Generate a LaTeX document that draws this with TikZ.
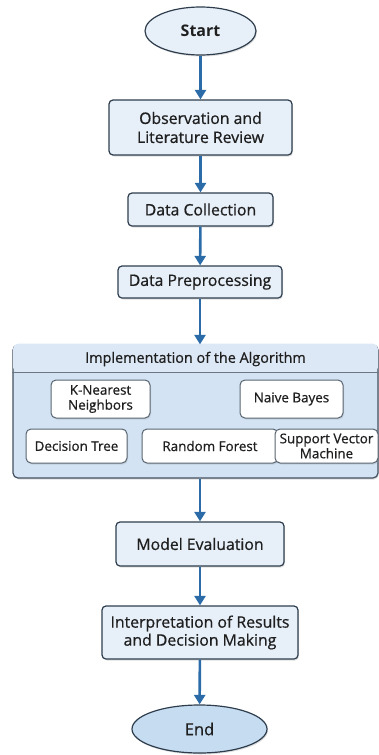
\documentclass[tikz,border=0pt]{standalone}
\usepackage{fontspec}
\setmainfont{Open Sans}
\newfontface\medfont{Open Sans}[FakeBold=0.7]
\usetikzlibrary{shapes.geometric,arrows.meta,shadows}
\definecolor{flowblue}{HTML}{2B6CA8}
\definecolor{boxfill}{HTML}{E7EFF8}
\definecolor{boxline}{HTML}{2E3D4D}
\definecolor{panelfill}{HTML}{D3E3F3}
\definecolor{panelhead}{HTML}{DCE8F5}
\definecolor{endfill}{HTML}{C6DCF0}
\begin{document}
\begin{tikzpicture}[x=1pt, y=-1pt,
    every node/.style={font=\medfont\fontsize{15.8}{19}\selectfont, text=black!88},
    stepbox/.style={draw=boxline, line width=1.2pt, fill=boxfill, rounded corners=4pt,
        align=center, inner sep=0pt, drop shadow={opacity=0.25, shadow xshift=1pt, shadow yshift=-1.5pt}},
    algobox/.style={draw=boxline!80, line width=1pt, fill=white, rounded corners=5pt,
        align=center, inner sep=0pt, font=\medfont\fontsize{13.4}{15}\selectfont,
        drop shadow={opacity=0.2, shadow xshift=1pt, shadow yshift=-1.5pt}},
    terminal/.style={ellipse, draw=boxline, line width=1.2pt, inner sep=0pt,
        drop shadow={opacity=0.25, shadow xshift=1pt, shadow yshift=-1.5pt}},
    flow/.style={flowblue, line width=2.6pt, -{Triangle[width=11pt,length=9.5pt]}}]
    \useasboundingbox (0,0) rectangle (379,755);

    % Main steps
    \node[terminal, fill=boxfill, minimum width=111, minimum height=48, font=\fontsize{16}{19}\selectfont\bfseries] (start) at (200.5,31) {Start};
    \node[stepbox, minimum width=183, minimum height=55] (observe) at (200.5,127.5) {Observation and\\Literature Review};
    \node[stepbox, minimum width=145, minimum height=33] (collect) at (200.5,209.5) {Data Collection};
    \node[stepbox, minimum width=164, minimum height=32] (prep) at (200,282) {Data Preprocessing};

    % Algorithm panel
    \node[draw=boxline!90, line width=1.2pt, fill=panelfill, rounded corners=5pt,
        minimum width=365, minimum height=133, inner sep=0pt,
        drop shadow={opacity=0.25, shadow xshift=1pt, shadow yshift=-1.5pt}] (impl) at (195.5,411.5) {};
    \fill[panelhead, rounded corners=5pt] ([shift={(0.7,-0.7)}]impl.north west) rectangle ([shift={(-0.7,28)}]impl.north east);
    \draw[boxline!70, line width=0.8pt] ([yshift=-28pt]impl.north west) -- ([yshift=-28pt]impl.north east);
    \node[font=\medfont\fontsize{14.4}{17}\selectfont] (impltitle) at (195.5,359) {Implementation of the Algorithm};

    % Algorithms
    \node[algobox, minimum width=99, minimum height=38] (knn) at (100.5,399) {K-Nearest\\Neighbors};
    \node[algobox, minimum width=103, minimum height=38] (nb) at (291.5,399) {Naive Bayes};
    \node[algobox, minimum width=101, minimum height=34] (dt) at (76.5,446) {Decision Tree};
    \node[algobox, minimum width=136, minimum height=34] (rf) at (210,446) {Random Forest};
    \node[algobox, minimum width=103, minimum height=34] (svm) at (326.5,446) {Support Vector\\Machine};

    % Closing steps
    \node[stepbox, minimum width=168, minimum height=44] (eval) at (200,544) {Model Evaluation};
    \node[stepbox, minimum width=196, minimum height=53, font=\medfont\fontsize{15.8}{18}\selectfont] (interp) at (200,632.5) {Interpretation of Results\\and Decision Making};
    \node[terminal, fill=endfill, minimum width=135, minimum height=48, font=\medfont\fontsize{16.5}{19}\selectfont] (stop) at (199.5,729) {End};

    % Connectors
    \draw[flow] (start) -- (observe);
    \draw[flow] (observe) -- (collect);
    \draw[flow] (collect) -- (prep);
    \draw[flow] (prep.south) -- (prep.south |- impl.north);
    \draw[flow] (prep.south |- impl.south) -- (eval.north);
    \draw[flow] (eval) -- (interp);
    \draw[flow] (interp) -- (stop);
\end{tikzpicture}
\end{document}
